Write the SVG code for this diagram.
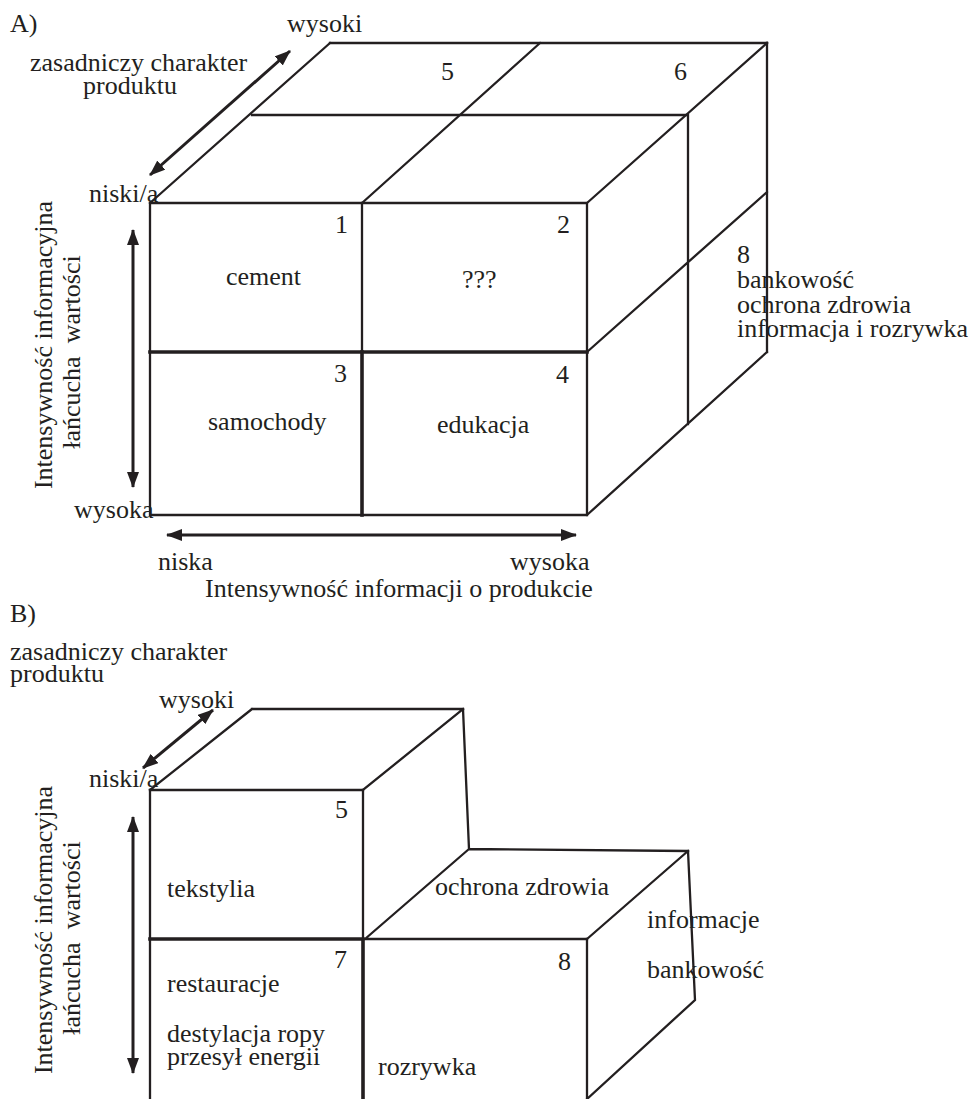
<svg xmlns="http://www.w3.org/2000/svg" width="972" height="1099" viewBox="0 0 972 1099">
<style>
text{font-family:"Liberation Serif","Times New Roman",serif;font-size:26px;fill:#231f20}
.ln{stroke:#231f20;stroke-width:2.3;fill:none;stroke-linecap:square}
.tk{stroke:#231f20;stroke-width:3.6;fill:none;stroke-linecap:square}
.ar{stroke:#231f20;stroke-width:3;fill:none;marker-start:url(#ah);marker-end:url(#ah)}
.pre{white-space:pre}
</style>
<defs>
<marker id="ah" viewBox="0 0 16 12" refX="15" refY="6" markerWidth="16" markerHeight="12" markerUnits="userSpaceOnUse" orient="auto-start-reverse">
<path d="M0,0 L16,6 L0,12 z" fill="#231f20"/>
</marker>
</defs>
<rect width="972" height="1099" fill="#fff"/>

<g id="diagramA">
<g id="cubeA-lines">
<path class="ln" d="M150,203 H587 V515 H150 Z"/>
<path class="ln" d="M362,203 V352"/>
<path class="tk" d="M362,352 V515"/>
<path class="tk" d="M150,352 H587"/>
<path class="ln" d="M330,43 H767 M252,115 H687"/>
<path class="ln" d="M150,203 L330,43 M362,203 L540,43 M587,203 L767,43"/>
<path class="ln" d="M767,43 V352 M688,115 V424 M587,352 L767,192 M587,515 L767,352"/>
</g>
<g id="labelsA">
<text x="10" y="32">A)</text>
<text x="287" y="32">wysoki</text>
<text x="30" y="71">zasadniczy charakter</text>
<text x="83" y="94">produktu</text>
<text x="89" y="202">niski/a</text>
<text x="74" y="518">wysoka</text>
<text x="158" y="570">niska</text>
<text x="510" y="570">wysoka</text>
<text x="205" y="597">Intensywność informacji o produkcie</text>
<text transform="translate(52,345) rotate(-90)" text-anchor="middle">Intensywność informacyjna</text>
<text class="pre" transform="translate(80,352) rotate(-90)" text-anchor="middle" xml:space="preserve">łańcucha  wartości</text>
</g>
<g id="cellsA">
<g id="cell1"><text x="335" y="233">1</text><text x="226" y="285">cement</text></g>
<g id="cell2"><text x="557" y="233">2</text><text x="462" y="288">???</text></g>
<g id="cell3"><text x="334" y="382">3</text><text x="208" y="430">samochody</text></g>
<g id="cell4"><text x="556" y="383">4</text><text x="437" y="433">edukacja</text></g>
<g id="cell5"><text x="441" y="80">5</text></g>
<g id="cell6"><text x="674" y="80">6</text></g>
<g id="cell8"><text x="737" y="263">8</text><text x="737" y="288">bankowość</text><text x="737" y="313">ochrona zdrowia</text><text x="737" y="337">informacja i rozrywka</text></g>
</g>
<g id="axesA">
<path class="ar" d="M290,51 L150,175"/>
<path class="ar" d="M133,230 V487"/>
<path class="ar" d="M167,535 H576"/>
</g>
</g>

<g id="diagramB">
<g id="cubeB-lines">
<path class="ln" d="M252,709 H463 M150,790 L252,709 M150,790 H363 M363,790 L463,709"/>
<path class="ln" d="M463,709 L469,849 L688,851 M469,849 L365,939 M688,851 L587,939 M363,939 H587"/>
<path class="ln" d="M688,851 L695,1000 L587,1099 M587,939 V1099"/>
<path class="ln" d="M150,790 V1099 M363,790 V939"/>
<path class="tk" d="M150,939 H363 M363,939 V1099"/>
</g>
<g id="labelsB">
<text x="10" y="622">B)</text>
<text x="10" y="660">zasadniczy charakter</text>
<text x="10" y="682">produktu</text>
<text x="159" y="708">wysoki</text>
<text x="89" y="787">niski/a</text>
<text transform="translate(52,930) rotate(-90)" text-anchor="middle">Intensywność informacyjna</text>
<text class="pre" transform="translate(80,938) rotate(-90)" text-anchor="middle" xml:space="preserve">łańcucha  wartości</text>
</g>
<g id="cellsB">
<g id="cellB5"><text x="335" y="818">5</text><text x="167" y="897">tekstylia</text></g>
<g id="cellB-top"><text x="435" y="895">ochrona zdrowia</text></g>
<g id="cellB-side"><text x="647" y="928">informacje</text><text x="647" y="978">bankowość</text></g>
<g id="cellB7"><text x="334" y="968">7</text><text x="167" y="992">restauracje</text><text x="167" y="1042">destylacja ropy</text><text x="167" y="1065">przesył energii</text></g>
<g id="cellB8"><text x="558" y="970">8</text><text x="378" y="1075">rozrywka</text></g>
</g>
<g id="axesB">
<path class="ar" d="M213,710 L143,768"/>
<path class="ar" d="M133,817 V1073"/>
</g>
</g>
</svg>
